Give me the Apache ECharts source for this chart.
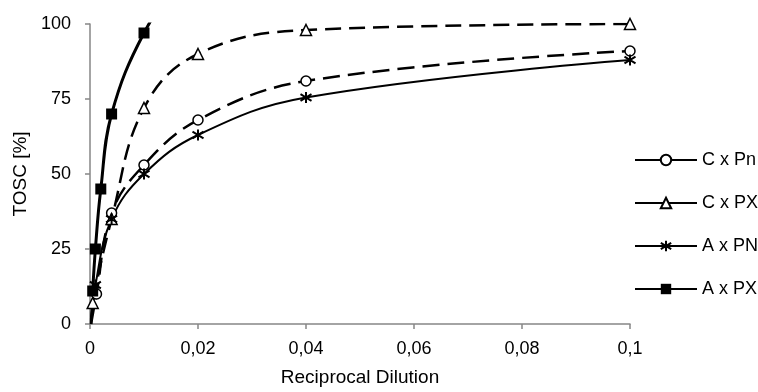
<!DOCTYPE html>
<html>
<head>
<meta charset="utf-8">
<script src="https://cdn.jsdelivr.net/npm/echarts@6/dist/echarts.min.js"></script>
<style>html,body{margin:0;padding:0;background:#fff}#c{width:758px;height:392px}</style>
</head>
<body>
<div id="c"></div>
<script>
// Data
const seriesNames = ["C x Pn", "C x PX", "A x PN", "A x PX"];
const xTicks = [0, 0.02, 0.04, 0.06, 0.08, 0.1];
const yTicks = [0, 25, 50, 75, 100];

const cxPnX = [0.0002, 0.0012, 0.004, 0.01, 0.02, 0.04, 0.1];
const cxPnY = [0, 10, 37, 53, 68, 81, 91];

const cxPXX = [0.0002, 0.0005, 0.004, 0.01, 0.02, 0.04, 0.1];
const cxPXY = [0, 7, 35, 72, 90, 98, 100];

const axPNX = [0.0002, 0.001, 0.004, 0.01, 0.02, 0.04, 0.1];
const axPNY = [0, 13, 35, 50, 63, 75.5, 88];

const axPXX = [0.0005, 0.001, 0.002, 0.004, 0.01, 0.02];
const axPXY = [11, 25, 45, 70, 97, 125];

// build [x, y] points; zero-value start points carry no marker
function pairs(xs, ys) {
  return xs.map((x, i) => ys[i] === 0 ? {value: [x, ys[i]], symbol: 'none'} : [x, ys[i]]);
}

const asterisk = 'path://M5,0 L5,10 M0.8,2 L9.2,8 M9.2,2 L0.8,8';
const font = 'Liberation Sans, Arial, sans-serif';
const fs = 18;
const fsTitle = 19;

const chart = echarts.init(document.getElementById('c'), null, {renderer: 'canvas'});
chart.setOption({
  animation: false,
  backgroundColor: '#ffffff',
  textStyle: {fontFamily: font},
  grid: {left: 90, right: 128, top: 24, bottom: 64, containLabel: false},
  legend: {
    orient: 'vertical', left: 634, top: 151, itemWidth: 62, itemHeight: 13, itemGap: 25,
    padding: 0,
    data: seriesNames,
    lineStyle: {type: 'solid'},
    textStyle: {fontFamily: font, fontSize: fs, color: '#000'}
  },
  xAxis: {
    type: 'value', min: 0, max: 0.1, interval: 0.02,
    name: 'Reciprocal Dilution', nameLocation: 'middle', nameGap: 44,
    nameTextStyle: {fontFamily: font, fontSize: fsTitle, color: '#000'},
    axisLine: {lineStyle: {color: '#868686', width: 1.5}},
    axisTick: {show: true, inside: false, length: 5, lineStyle: {color: '#868686', width: 1.5}},
    splitLine: {show: false},
    axisLabel: {fontFamily: font, fontSize: fs, color: '#000', margin: 16,
      formatter: v => String(+v.toFixed(2)).replace('.', ',')}
  },
  yAxis: {
    type: 'value', min: 0, max: 100, interval: 25,
    name: 'TOSC [%]', nameLocation: 'middle', nameGap: 58, nameRotate: 90,
    nameTextStyle: {fontFamily: font, fontSize: fsTitle, color: '#000'},
    axisLine: {show: true, lineStyle: {color: '#868686', width: 1.5}},
    axisTick: {show: true, inside: false, length: 5, lineStyle: {color: '#868686', width: 1.5}},
    splitLine: {show: false},
    axisLabel: {fontFamily: font, fontSize: fs, color: '#000', margin: 19}
  },
  series: [
    {
      name: seriesNames[0], type: 'line', smooth: 0.4, clip: true,
      data: pairs(cxPnX, cxPnY),
      symbol: 'circle', symbolSize: 10,
      lineStyle: {color: '#000', width: 2.5, type: [17, 8]},
      itemStyle: {color: '#fff', borderColor: '#000', borderWidth: 1.5}
    },
    {
      name: seriesNames[1], type: 'line', smooth: 0.4, clip: true,
      data: pairs(cxPXX, cxPXY),
      symbol: 'triangle', symbolSize: 11,
      lineStyle: {color: '#000', width: 2.5, type: [16, 8]},
      itemStyle: {color: '#fff', borderColor: '#000', borderWidth: 1.5}
    },
    {
      name: seriesNames[2], type: 'line', smooth: 0.4, clip: true,
      data: pairs(axPNX, axPNY),
      symbol: asterisk, symbolSize: 11,
      lineStyle: {color: '#000', width: 2},
      itemStyle: {color: 'none', borderColor: '#000', borderWidth: 2}
    },
    {
      name: seriesNames[3], type: 'line', smooth: 0.4, clip: true,
      data: pairs(axPXX, axPXY),
      symbol: 'rect', symbolSize: 11,
      lineStyle: {color: '#000', width: 3},
      itemStyle: {color: '#000', borderColor: '#000', borderWidth: 0}
    }
  ]
});
</script>
</body>
</html>
